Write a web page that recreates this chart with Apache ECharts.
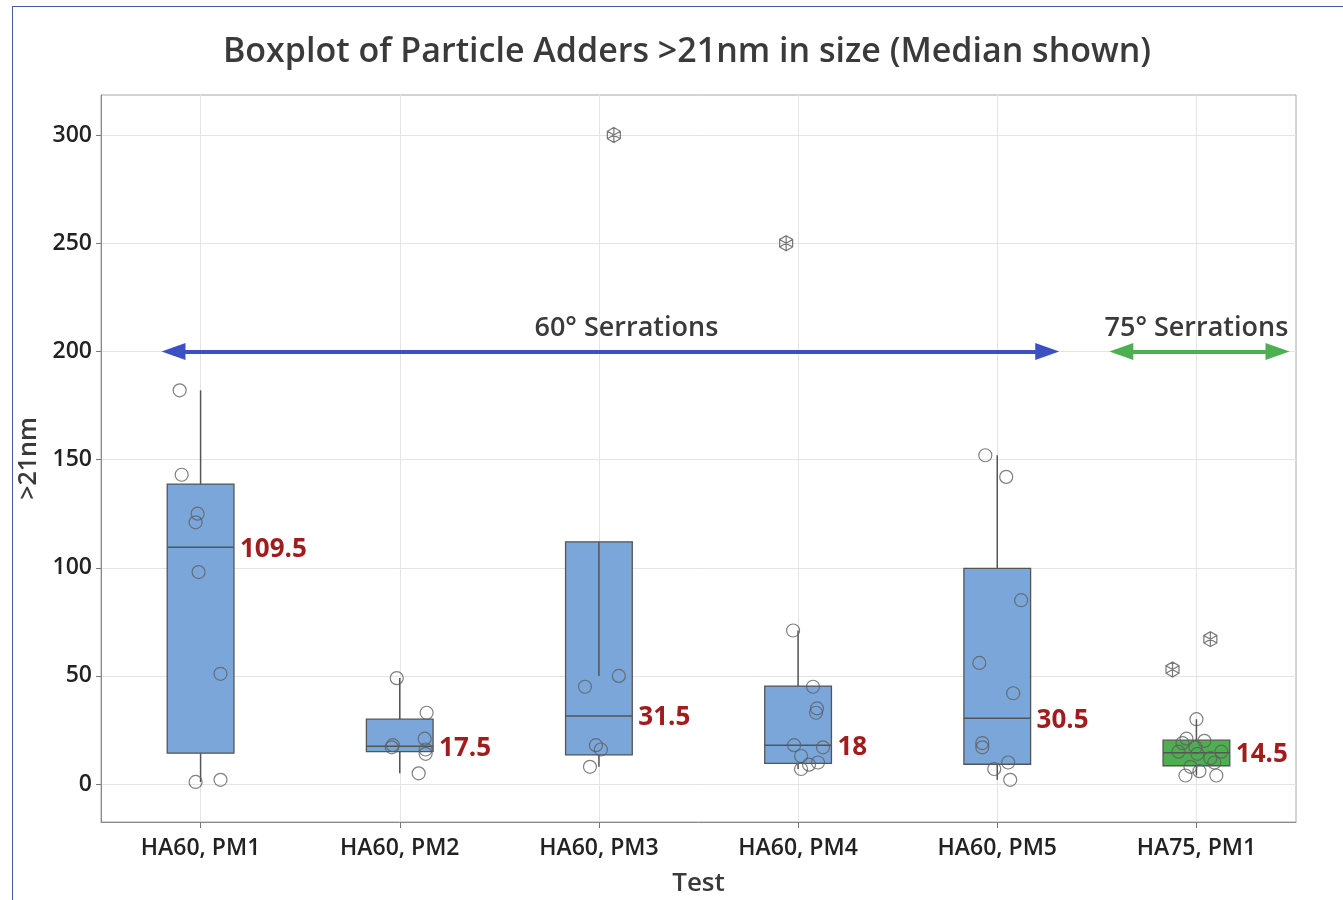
<!DOCTYPE html>
<html><head><meta charset="utf-8">
<script src="https://cdn.jsdelivr.net/npm/echarts@6/dist/echarts.min.js"></script>
<style>
html,body{margin:0;padding:0;background:#fff;}
#frame{position:absolute;left:12px;top:6px;width:1331px;height:894px;border-left:1px solid #4b5aa5;border-top:1px solid #4b5aa5;box-sizing:border-box;pointer-events:none;}
#main{position:absolute;left:0;top:0;width:1343px;height:900px;}
</style></head><body>
<div id="main"></div>
<div id="frame"></div>
<script>
const categories = ['HA60, PM1','HA60, PM2','HA60, PM3','HA60, PM4','HA60, PM5','HA75, PM1'];
const yTicks = [0, 50, 100, 150, 200, 250, 300];
// [lower whisker, Q1, median, Q3, upper whisker]
const boxPM1 = [1, 14.3, 109.5, 138.7, 182];
const boxPM2 = [5, 15, 17.5, 30, 49];
const boxPM3 = [8, 13.5, 31.5, 112, 50];
const boxPM4 = [7, 9.6, 18, 45.3, 71];
const boxPM5 = [2, 9.2, 30.5, 99.7, 152];
const boxHA75 = [4, 8.5, 14.5, 20.3, 30];
const medianLabels = ['109.5', '17.5', '31.5', '18', '30.5', '14.5'];

// individual values (non-outliers) and their horizontal jitter (category units)
const valsPM1 = [182, 143, 125, 121, 98, 51, 2, 1];
const jitPM1  = [-0.105, -0.095, -0.015, -0.025, -0.01, 0.10, 0.10, -0.025];
const valsPM2 = [49, 33, 21, 18, 17, 16, 14, 5];
const jitPM2  = [-0.015, 0.135, 0.125, -0.035, -0.04, 0.13, 0.13, 0.095];
const valsPM3 = [50, 45, 18, 16, 8];
const jitPM3  = [0.10, -0.07, -0.015, 0.01, -0.045];
const valsPM4 = [71, 45, 35, 33, 18, 17, 13, 10, 9, 7];
const jitPM4  = [-0.025, 0.075, 0.095, 0.09, -0.02, 0.125, 0.015, 0.10, 0.055, 0.015];
const valsPM5 = [152, 142, 85, 56, 42, 19, 17, 10, 7, 2];
const jitPM5  = [-0.06, 0.045, 0.12, -0.09, 0.08, -0.075, -0.075, 0.055, -0.015, 0.065];
const valsHA75 = [30, 21, 20, 19, 17, 15, 15, 14, 12, 10, 8, 6, 4, 4];
const jitHA75  = [0.0, -0.05, 0.04, -0.07, -0.005, -0.09, 0.125, 0.005, 0.07, 0.09, -0.03, 0.015, -0.055, 0.10];

// outliers: [category index, value, jitter]
const outlierCat = [2, 3, 5, 5];
const outlierVal = [300, 250, 53, 67];
const outlierJit = [0.075, -0.06, -0.12, 0.07];

// annotation arrows at y = 200 (x extents in category units)
const arrowY = 200;
const arrow60 = [-0.136, 4.251];
const arrow75 = [4.623, 5.407];

const FONT = '"Open Sans", "Noto Sans", sans-serif';
const boxes = [boxPM1, boxPM2, boxPM3, boxPM4, boxPM5, boxHA75];
const boxColors = ['#7ba6d9', '#7ba6d9', '#7ba6d9', '#7ba6d9', '#7ba6d9', '#4caf50'];
const groups = [[valsPM1, jitPM1], [valsPM2, jitPM2], [valsPM3, jitPM3], [valsPM4, jitPM4], [valsPM5, jitPM5], [valsHA75, jitHA75]];
const pointData = [];
groups.forEach((g, i) => g[0].forEach((v, k) => pointData.push([i + g[1][k], v])));
const outlierData = outlierVal.map((v, k) => [outlierCat[k] + outlierJit[k], v]);
const boxData = boxes.map((b, i) => [i].concat(b));
const catIdx = categories.map((c, i) => i);
const BOXW = 0.335;

const chart = echarts.init(document.getElementById('main'));
chart.setOption({
  animation: false,
  backgroundColor: '#ffffff',
  title: {
    text: 'Boxplot of Particle Adders >21nm in size (Median shown)',
    left: 682, top: 30, textAlign: 'center',
    textStyle: { fontFamily: FONT, fontSize: 34, fontWeight: 600, color: '#3a3a3a' }
  },
  grid: { left: 101, right: 47, top: 95, bottom: 78, outerBoundsMode: 'none', containLabel: false, show: true, borderColor: '#a8a8a8', borderWidth: 1 },
  xAxis: {
    type: 'value', min: -0.5, max: 5.5,
    name: 'Test', nameLocation: 'middle', nameGap: 49,
    nameTextStyle: { fontFamily: FONT, fontSize: 26, fontWeight: 600, color: '#3a3a3a' },
    axisLine: { show: true, onZero: false, lineStyle: { color: '#8a8a8a' } },
    axisTick: { show: true, customValues: catIdx, length: 6, lineStyle: { color: '#777' } },
    axisLabel: { customValues: catIdx, formatter: v => categories[Math.round(v)], fontFamily: FONT, fontSize: 23, fontWeight: 600, color: '#222', margin: 15 },
    splitLine: { show: true, lineStyle: { color: '#e4e4e4' } }
  },
  yAxis: {
    type: 'value', min: -17.5, max: 318.5,
    name: '>21nm', nameLocation: 'middle', nameGap: 58, nameRotate: 90,
    nameTextStyle: { fontFamily: FONT, fontSize: 25, fontWeight: 600, color: '#3a3a3a' },
    axisLine: { show: true, onZero: false, lineStyle: { color: '#8a8a8a' } },
    axisTick: { show: true, customValues: yTicks, length: 5, lineStyle: { color: '#777' } },
    axisLabel: { customValues: yTicks, fontFamily: FONT, fontSize: 23, fontWeight: 600, color: '#222', margin: 9 },
    splitLine: { show: true, lineStyle: { color: '#e4e4e4' } }
  },
  series: [
    {
      type: 'custom', z: 2,
      data: boxData,
      encode: { x: 0, y: [1, 2, 3, 4, 5] },
      renderItem: function (params, api) {
        const x = api.value(0);
        const lo = api.value(1), q1 = api.value(2), med = api.value(3), q3 = api.value(4), hi = api.value(5);
        const hw = api.size([BOXW, 0])[0] / 2;
        const pQ3 = api.coord([x, q3]), pQ1 = api.coord([x, q1]), pM = api.coord([x, med]);
        const pLo = api.coord([x, lo]), pHi = api.coord([x, hi]);
        const ls = { stroke: '#555', lineWidth: 1.5 };
        return {
          type: 'group', children: [
            { type: 'rect', shape: { x: pQ3[0] - hw, y: pQ3[1], width: 2 * hw, height: pQ1[1] - pQ3[1] },
              style: { fill: boxColors[params.dataIndex], stroke: '#555', lineWidth: 1.3 } },
            { type: 'line', shape: { x1: pQ3[0], y1: pQ3[1], x2: pHi[0], y2: pHi[1] }, style: ls },
            { type: 'line', shape: { x1: pQ1[0], y1: pQ1[1], x2: pLo[0], y2: pLo[1] }, style: ls },
            { type: 'line', shape: { x1: pM[0] - hw, y1: pM[1], x2: pM[0] + hw, y2: pM[1] }, style: ls },
            { type: 'text', x: pM[0] + hw + 6, y: pM[1] + 2,
              style: { text: medianLabels[params.dataIndex], fill: '#a11d1d', fontFamily: FONT, fontSize: 26, fontWeight: 'bold', align: 'left', verticalAlign: 'middle' } }
          ]
        };
      }
    },
    {
      type: 'scatter', z: 5,
      data: pointData,
      symbol: 'circle', symbolSize: 13,
      itemStyle: { color: 'rgba(0,0,0,0)', borderColor: '#5f5f5f', borderWidth: 1.2 }
    },
    {
      type: 'scatter', z: 5,
      data: outlierData,
      symbol: 'path://M10,0 L18.66,5 L18.66,15 L10,20 L1.34,15 L1.34,5 Z M10,0 L10,20 M1.34,5 L18.66,15 M1.34,15 L18.66,5',
      symbolKeepAspect: true, symbolSize: 15,
      itemStyle: { color: 'rgba(0,0,0,0)', borderColor: '#555', borderWidth: 1.2 }
    },
    {
      type: 'line', data: [], z: 6,
      markLine: {
        silent: true, animation: false,
        symbol: ['triangle', 'triangle'], symbolSize: [17, 24],
        data: [
          [{ coord: [arrow60[0], arrowY], lineStyle: { color: '#3d50c3', width: 4, type: 'solid' }, itemStyle: { color: '#3d50c3' },
             label: { show: true, formatter: '60° Serrations', position: 'insideMiddleTop', distance: 10, offset: [16, 0], fontFamily: FONT, fontSize: 27, fontWeight: 600, color: '#3a3a3a' } },
           { coord: [arrow60[1], arrowY] }],
          [{ coord: [arrow75[0], arrowY], lineStyle: { color: '#4caf50', width: 4, type: 'solid' }, itemStyle: { color: '#4caf50' },
             label: { show: true, formatter: '75° Serrations', position: 'insideMiddleTop', distance: 10, offset: [-3, 0], fontFamily: FONT, fontSize: 27, fontWeight: 600, color: '#3a3a3a' } },
           { coord: [arrow75[1], arrowY] }]
        ]
      }
    }
  ]
});
</script>
</body></html>
